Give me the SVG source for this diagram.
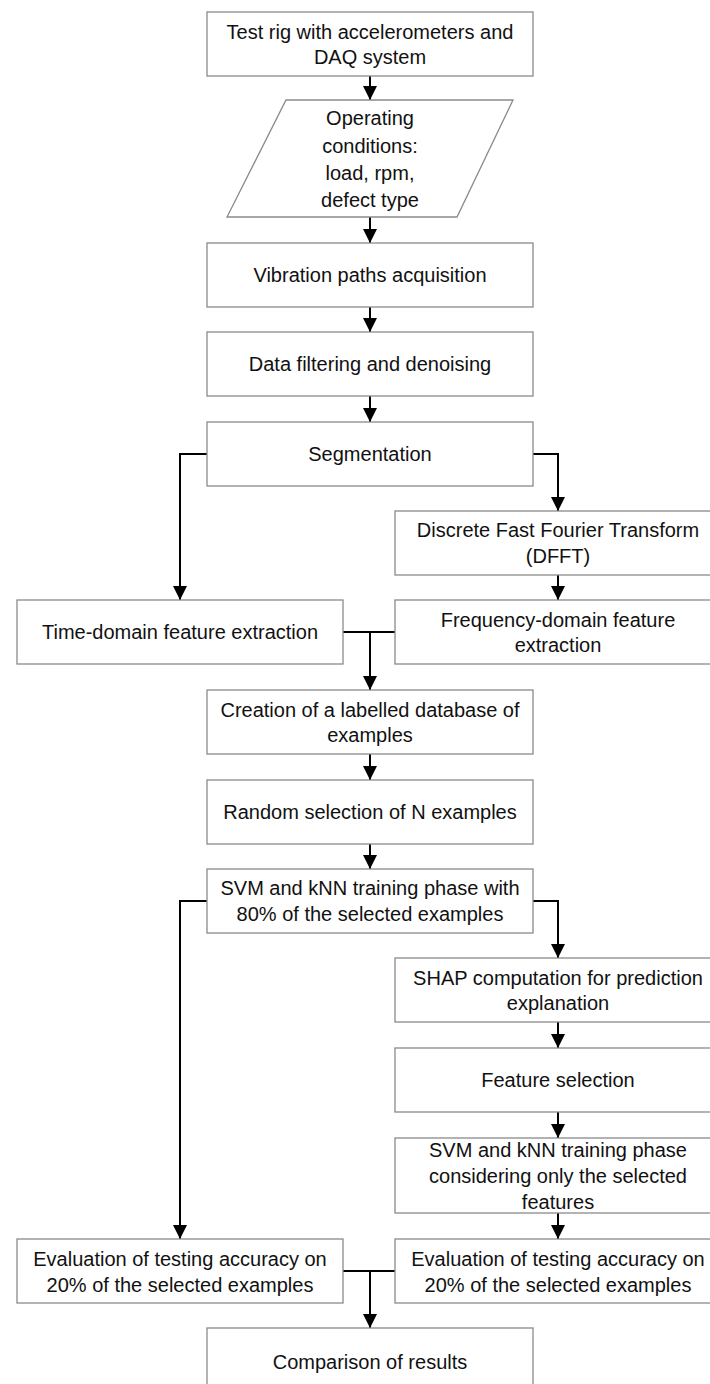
<svg xmlns="http://www.w3.org/2000/svg" width="710" height="1384" viewBox="0 0 710 1384">
<style>
.box{fill:#fff;stroke:#8a8a8a;stroke-width:1.3}
.t{font-family:"Liberation Sans",Arial,sans-serif;font-size:20px;fill:#111;text-anchor:middle}
.c{fill:none;stroke:#000;stroke-width:2}
</style>
<defs>
<marker id="ah" markerUnits="userSpaceOnUse" markerWidth="14" markerHeight="14" refX="14" refY="7" orient="auto">
<path d="M0,0 L14,7 L0,14 z" fill="#000"/>
</marker>
</defs>
<rect width="710" height="1384" fill="#fff"/>
<g id="connectors">
<path class="c" d="M370,76 V100" marker-end="url(#ah)"/>
<path class="c" d="M370,217 V243" marker-end="url(#ah)"/>
<path class="c" d="M370,307 V332" marker-end="url(#ah)"/>
<path class="c" d="M370,396 V422" marker-end="url(#ah)"/>
<path class="c" d="M207,454 H180 V600" marker-end="url(#ah)"/>
<path class="c" d="M533,454 H558 V511" marker-end="url(#ah)"/>
<path class="c" d="M558,575 V600" marker-end="url(#ah)"/>
<path class="c" d="M343,632 H395"/>
<path class="c" d="M370,632 V690" marker-end="url(#ah)"/>
<path class="c" d="M370,754 V780" marker-end="url(#ah)"/>
<path class="c" d="M370,844 V869" marker-end="url(#ah)"/>
<path class="c" d="M207,901 H180 V1239" marker-end="url(#ah)"/>
<path class="c" d="M533,901 H558 V958" marker-end="url(#ah)"/>
<path class="c" d="M558,1022 V1048" marker-end="url(#ah)"/>
<path class="c" d="M558,1112 V1138" marker-end="url(#ah)"/>
<path class="c" d="M558,1213 V1239" marker-end="url(#ah)"/>
<path class="c" d="M343,1271 H395"/>
<path class="c" d="M370,1271 V1328" marker-end="url(#ah)"/>
</g>
<g id="n1"><rect class="box" x="207" y="12" width="326" height="64"/>
<text class="t" x="370" y="39">Test rig with accelerometers and</text>
<text class="t" x="370" y="64">DAQ system</text></g>
<g id="n2"><polygon class="box" points="286,100 513,100 457,217 227,217"/>
<text class="t" x="370" y="125">Operating</text>
<text class="t" x="370" y="153">conditions:</text>
<text class="t" x="370" y="180">load, rpm,</text>
<text class="t" x="370" y="207">defect type</text></g>
<g id="n3"><rect class="box" x="207" y="243" width="326" height="64"/>
<text class="t" x="370" y="282">Vibration paths acquisition</text></g>
<g id="n4"><rect class="box" x="207" y="332" width="326" height="64"/>
<text class="t" x="370" y="371">Data filtering and denoising</text></g>
<g id="n5"><rect class="box" x="207" y="422" width="326" height="64"/>
<text class="t" x="370" y="461">Segmentation</text></g>
<g id="n6"><rect class="box" x="395" y="511" width="326" height="64"/>
<text class="t" x="558" y="537">Discrete Fast Fourier Transform</text>
<text class="t" x="558" y="563">(DFFT)</text></g>
<g id="n7"><rect class="box" x="17" y="600" width="326" height="64"/>
<text class="t" x="180" y="639">Time-domain feature extraction</text></g>
<g id="n8"><rect class="box" x="395" y="600" width="326" height="64"/>
<text class="t" x="558" y="627">Frequency-domain feature</text>
<text class="t" x="558" y="652">extraction</text></g>
<g id="n9"><rect class="box" x="207" y="690" width="326" height="64"/>
<text class="t" x="370" y="717">Creation of a labelled database of</text>
<text class="t" x="370" y="742">examples</text></g>
<g id="n10"><rect class="box" x="207" y="780" width="326" height="64"/>
<text class="t" x="370" y="819">Random selection of N examples</text></g>
<g id="n11"><rect class="box" x="207" y="869" width="326" height="64"/>
<text class="t" x="370" y="895">SVM and kNN training phase with</text>
<text class="t" x="370" y="921">80% of the selected examples</text></g>
<g id="n12"><rect class="box" x="395" y="958" width="326" height="64"/>
<text class="t" x="558" y="985">SHAP computation for prediction</text>
<text class="t" x="558" y="1010">explanation</text></g>
<g id="n13"><rect class="box" x="395" y="1048" width="326" height="64"/>
<text class="t" x="558" y="1087">Feature selection</text></g>
<g id="n14"><rect class="box" x="395" y="1138" width="326" height="75"/>
<text class="t" x="558" y="1157">SVM and kNN training phase</text>
<text class="t" x="558" y="1183">considering only the selected</text>
<text class="t" x="558" y="1209">features</text></g>
<g id="n15"><rect class="box" x="17" y="1239" width="326" height="64"/>
<text class="t" x="180" y="1266">Evaluation of testing accuracy on</text>
<text class="t" x="180" y="1292">20% of the selected examples</text></g>
<g id="n16"><rect class="box" x="395" y="1239" width="326" height="64"/>
<text class="t" x="558" y="1266">Evaluation of testing accuracy on</text>
<text class="t" x="558" y="1292">20% of the selected examples</text></g>
<g id="n17"><rect class="box" x="207" y="1328" width="326" height="64"/>
<text class="t" x="370" y="1369">Comparison of results</text></g>
</svg>
